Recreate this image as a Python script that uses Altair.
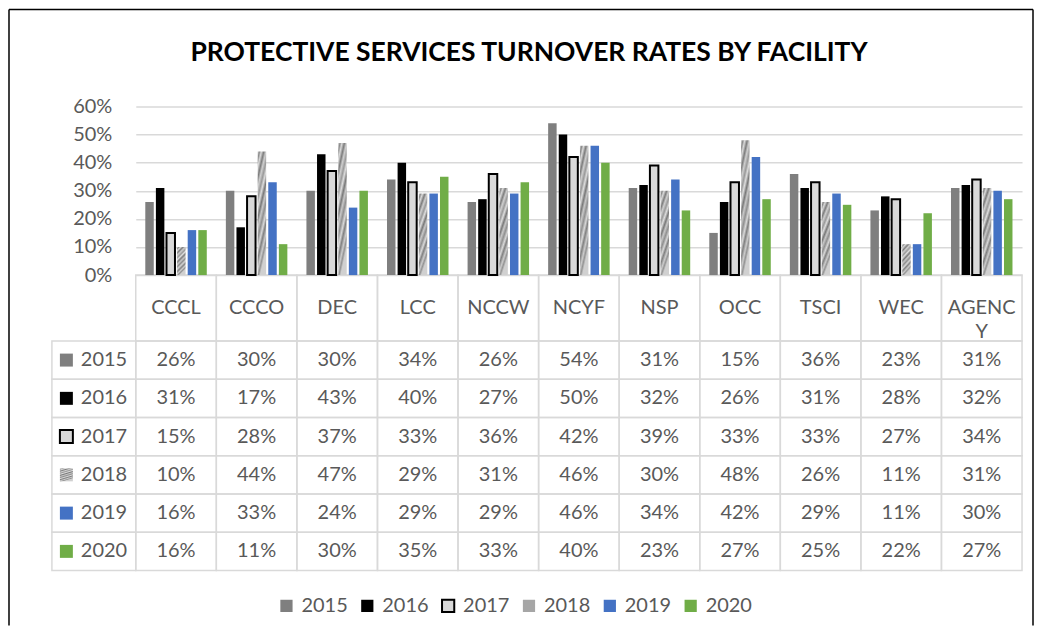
import altair as alt
import pandas as pd

facilities = ["CCCL", "CCCO", "DEC", "LCC", "NCCW", "NCYF", "NSP", "OCC", "TSCI", "WEC", "AGENCY"]
header_labels = ["CCCL", "CCCO", "DEC", "LCC", "NCCW", "NCYF", "NSP", "OCC", "TSCI", "WEC", "AGENC\nY"]
years = ["2015", "2016", "2017", "2018", "2019", "2020"]

r2015 = [26, 30, 30, 34, 26, 54, 31, 15, 36, 23, 31]
r2016 = [31, 17, 43, 40, 27, 50, 32, 26, 31, 28, 32]
r2017 = [15, 28, 37, 33, 36, 42, 39, 33, 33, 27, 34]
r2018 = [10, 44, 47, 29, 31, 46, 30, 48, 26, 11, 31]
r2019 = [16, 33, 24, 29, 29, 46, 34, 42, 29, 11, 30]
r2020 = [16, 11, 30, 35, 33, 40, 23, 27, 25, 22, 27]
series = [r2015, r2016, r2017, r2018, r2019, r2020]

colors = ["#7f7f7f", "#000000", "#d9d9d9", "#a6a6a6", "#4472c4", "#70ad47"]
strokes = ["transparent", "transparent", "#000000", "transparent", "transparent", "transparent"]

title_text = "PROTECTIVE SERVICES TURNOVER RATES BY FACILITY"

rows = []
for yr, vals in zip(years, series):
    for f, v in zip(facilities, vals):
        rows.append({"facility": f, "year": yr, "value": v / 100})
df = pd.DataFrame(rows)
ydf = pd.DataFrame({"year": years})
hdf = pd.DataFrame({"facility": facilities, "label": header_labels, "row": ["hdr"] * len(facilities)})

TXT = "#595959"
GRID = "#d9d9d9"
FONT = "Lato"

marble = {
    "gradient": "linear", "x1": 0, "y1": 0, "x2": 0.3, "y2": 1,
    "stops": [
        {"offset": 0.0, "color": "#d2d2d2"}, {"offset": 0.06, "color": "#8a8a8a"},
        {"offset": 0.12, "color": "#dadada"}, {"offset": 0.2, "color": "#7c7c7c"},
        {"offset": 0.27, "color": "#cfcfcf"}, {"offset": 0.35, "color": "#999999"},
        {"offset": 0.42, "color": "#dddddd"}, {"offset": 0.5, "color": "#787878"},
        {"offset": 0.57, "color": "#c8c8c8"}, {"offset": 0.65, "color": "#8f8f8f"},
        {"offset": 0.73, "color": "#d8d8d8"}, {"offset": 0.8, "color": "#808080"},
        {"offset": 0.88, "color": "#cccccc"}, {"offset": 0.94, "color": "#939393"},
        {"offset": 1.0, "color": "#d0d0d0"},
    ],
}

legend_spec = alt.Legend(
    title=None, orient="none", legendX=141, legendY=490, direction="horizontal",
    symbolType="square", symbolSize=150, symbolStrokeWidth=2,
    labelFont=FONT, labelFontSize=20, labelColor=TXT, labelOffset=5, columnPadding=8,
)

fill_enc = alt.condition(
    "datum.year == '2018'", alt.value(marble),
    alt.Fill("year:N", scale=alt.Scale(domain=years, range=colors), legend=legend_spec),
)
stroke_enc = alt.Stroke("year:N", scale=alt.Scale(domain=years, range=strokes), legend=legend_spec)
sw_enc = alt.condition("datum.year == '2017'", alt.value(2), alt.value(0))

x_scale = alt.Scale(type="band", domain=facilities, paddingInner=0, paddingOuter=0)
X = alt.X("facility:N", scale=x_scale, axis=None)

bars = alt.Chart(df).mark_bar().encode(
    x=X,
    xOffset=alt.XOffset("year:N", scale=alt.Scale(domain=years, paddingInner=0.2, paddingOuter=0.9)),
    y=alt.Y(
        "value:Q",
        scale=alt.Scale(domain=[0, 0.6], range=[169, 0], nice=False),
        axis=alt.Axis(
            values=[0, 0.1, 0.2, 0.3, 0.4, 0.5, 0.6], format=".0%", grid=True,
            gridColor=GRID, gridWidth=1.5, domain=False, ticks=False, labelPadding=24,
            labelFont=FONT, labelFontSize=20, labelColor=TXT, title=None,
        ),
    ),
    fill=fill_enc,
    stroke=stroke_enc,
    strokeWidth=sw_enc,
)

y_rows = alt.Y("year:N", scale=alt.Scale(type="band", domain=years, range=[235, 465],
                                         paddingInner=0, paddingOuter=0), axis=None)

cells = alt.Chart(df).mark_rect(fill="transparent", stroke=GRID, strokeWidth=1.5).encode(x=X, y=y_rows)
cell_text = alt.Chart(df).mark_text(font=FONT, fontSize=20, color=TXT).encode(
    x=X, y=y_rows, text=alt.Text("value:Q", format=".0%"))
lab_cells = alt.Chart(ydf).mark_rect(fill="transparent", stroke=GRID, strokeWidth=1.5).encode(
    x=alt.value(-84), x2=alt.value(0), y=y_rows)
lab_sq = alt.Chart(ydf).mark_square(size=169, opacity=1).encode(
    x=alt.value(-69.5), y=y_rows, fill=fill_enc, stroke=stroke_enc, strokeWidth=sw_enc)
lab_text = alt.Chart(ydf).mark_text(align="left", font=FONT, fontSize=20, color=TXT).encode(
    x=alt.value(-55), y=y_rows, text="year:N")
table = alt.layer(cells, cell_text, lab_cells, lab_sq, lab_text)

y_hdr = alt.Y("row:N", scale=alt.Scale(type="band", domain=["hdr"], range=[169, 235],
                                       paddingInner=0, paddingOuter=0), axis=None)
hdr_cells = alt.Chart(hdf).mark_rect(fill="transparent", stroke=GRID, strokeWidth=1.5).encode(x=X, y=y_hdr)
hdr_text = alt.Chart(hdf).mark_text(font=FONT, fontSize=20, color=TXT, lineBreak="\n", lineHeight=24).encode(
    x=X, y=y_hdr, text="label:N")
header = alt.layer(hdr_cells, hdr_text)

one = alt.Data(values=[{}])
frame_left = alt.Chart(one).mark_rule(color="black", strokeWidth=1.5).encode(
    x=alt.value(-127), y=alt.value(-97), y2=alt.value(520))
frame_top = alt.Chart(one).mark_rule(color="black", strokeWidth=1.5).encode(
    x=alt.value(-127), x2=alt.value(899), y=alt.value(-97))
frame_right = alt.Chart(one).mark_rule(color="black", strokeWidth=1.5).encode(
    x=alt.value(899), y=alt.value(-97), y2=alt.value(520))
title = alt.Chart(one).mark_text(
    text=title_text, font=FONT, fontSize=26.5, fontWeight="bold", color="black",
    align="center", baseline="middle").encode(x=alt.value(394), y=alt.value(-54))

chart = alt.layer(
    frame_left, frame_top, frame_right, title, table, header, bars
).resolve_scale(y="independent").properties(
    width=888, height=465, padding=0, background="white"
).configure_view(strokeWidth=0)

chart.save("out.html", embed_options={"renderer": "svg", "actions": False})
